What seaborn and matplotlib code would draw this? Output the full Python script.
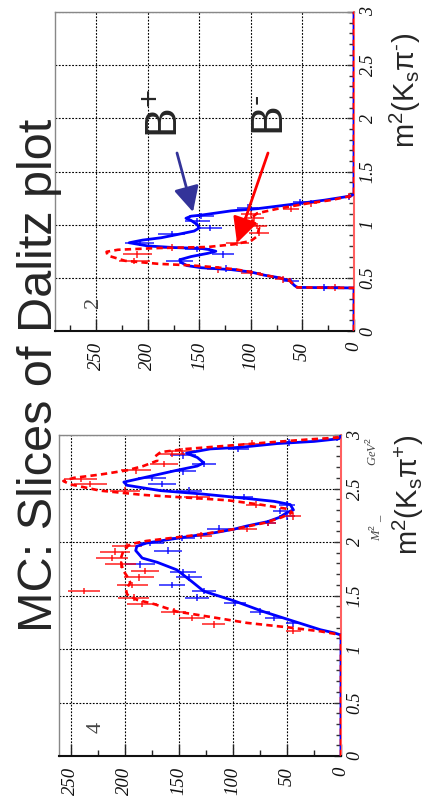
import matplotlib
matplotlib.use("Agg")
import matplotlib.pyplot as plt
from matplotlib.patches import FancyArrowPatch, ArrowStyle
from matplotlib.ticker import FixedLocator, MultipleLocator, FuncFormatter
import pandas as pd
import seaborn as sns

sns.set_style("white")
plt.rcParams["font.family"] = ["Liberation Sans", "DejaVu Sans"]
plt.rcParams["mathtext.fontset"] = "custom"
plt.rcParams["mathtext.rm"] = "Liberation Sans"
plt.rcParams["mathtext.it"] = "Liberation Sans:italic"
plt.rcParams["mathtext.bf"] = "Liberation Sans:bold"

# ---------------- slice 2 : m^2(Ks pi-) ----------------
TOP_FIT_BP_M2 = [0.0, 0.405, 0.41, 0.43, 0.47, 0.50, 0.525, 0.555, 0.577, 0.595, 0.615,
                 0.647, 0.67, 0.70, 0.73, 0.75, 0.765, 0.776, 0.785, 0.80, 0.83, 0.855,
                 0.877, 0.908, 0.94, 0.97, 1.0, 1.04, 1.06, 1.08, 1.09, 1.13, 1.15, 1.19,
                 1.23, 1.27, 1.29, 3.0]
TOP_FIT_BP_N = [0, 0, 55, 58, 62, 72, 87, 100, 119, 148, 162,
                168, 169, 158, 142, 134, 140, 148, 175, 200, 218, 205,
                187, 171, 155, 150, 152, 158, 163, 158, 148, 119, 94, 61,
                29, 3, 0, 0]
TOP_FIT_BM_M2 = [0.0, 0.405, 0.41, 0.43, 0.47, 0.50, 0.525, 0.555, 0.58, 0.60, 0.617,
                 0.632, 0.66, 0.71, 0.745, 0.764, 0.78, 0.79, 0.816, 0.847, 0.89, 0.97,
                 1.015, 1.06, 1.107, 1.15, 1.2, 1.23, 1.276, 3.0]
TOP_FIT_BM_N = [0, 0, 55, 58, 62, 72, 87, 100, 115, 135, 158,
                190, 222, 239, 240, 229, 190, 142, 116, 100, 94, 92,
                97, 100, 94, 74, 45, 23, 0, 0]
TOP_PTS_BP_M2 = [0.41, 0.47, 0.586, 0.66, 0.72, 0.77, 0.83, 0.91, 0.97, 1.03, 1.08,
                 1.16, 1.21, 1.26]
TOP_PTS_BP_N = [29, 61, 124, 169, 127, 152, 208, 177, 140, 152, 148, 103, 52, 5]
TOP_PTS_BP_ERR = [5, 8, 11, 13, 11, 12, 14, 13, 12, 12, 12, 10, 7, 2]
TOP_PTS_BM_M2 = [0.41, 0.485, 0.545, 0.58, 0.66, 0.72, 0.785, 0.83, 0.92, 0.985, 1.06,
                 1.10, 1.15, 1.2, 1.27]
TOP_PTS_BM_N = [18, 69, 100, 132, 213, 210, 177, 113, 92, 94, 97, 100, 61, 42, 5]
TOP_PTS_BM_ERR = [4, 8, 10, 11, 15, 14, 13, 11, 10, 10, 10, 10, 8, 6, 2]

# ---------------- slice 4 : m^2(Ks pi+) ----------------
BOT_FIT_BP_M2 = [0.0, 1.13, 1.15, 1.18, 1.26, 1.35, 1.45, 1.54, 1.63, 1.74, 1.81, 1.85,
                 1.92, 1.96, 1.99, 2.025, 2.06, 2.09, 2.12, 2.15, 2.19, 2.23, 2.275, 2.30,
                 2.35, 2.38, 2.41, 2.45, 2.48, 2.53, 2.56, 2.60, 2.67, 2.71, 2.74, 2.79,
                 2.83, 2.87, 2.885, 2.92, 2.94, 2.965, 3.0]
BOT_FIT_BP_N = [0, 0, 6, 19, 44, 72, 99, 127, 138, 152, 170, 184,
                190, 189, 180, 158, 135, 115, 99, 87, 68, 57, 50, 44,
                47, 62, 90, 130, 167, 198, 201, 183, 152, 133, 127, 133,
                143, 121, 93, 59, 25, 2, 0]
BOT_FIT_BM_M2 = [0.0, 1.13, 1.135, 1.165, 1.2, 1.244, 1.3, 1.35, 1.42, 1.46, 1.51, 1.556,
                 1.62, 1.68, 1.74, 1.84, 1.93, 1.98, 2.01, 2.04, 2.07, 2.12, 2.18, 2.23,
                 2.275, 2.31, 2.35, 2.39, 2.415, 2.44, 2.48, 2.54, 2.57, 2.60, 2.63, 2.67,
                 2.71, 2.76, 2.80, 2.84, 2.87, 2.90, 2.93, 2.96, 2.975, 3.0]
BOT_FIT_BM_N = [0, 0, 2, 19, 47, 87, 121, 152, 173, 189, 198, 199,
                195, 198, 202, 204, 201, 195, 180, 155, 130, 99, 70, 55,
                45, 50, 75, 105, 143, 183, 223, 251, 257, 247, 223, 198,
                183, 170, 172, 167, 143, 105, 68, 28, 3, 0]
BOT_PTS_BP_M2 = [1.24, 1.29, 1.35, 1.43, 1.48, 1.54, 1.60, 1.67, 1.72, 1.79, 1.92, 1.99,
                 2.04, 2.125, 2.18, 2.24, 2.29, 2.35, 2.42, 2.48, 2.54, 2.60, 2.66, 2.73,
                 2.81, 2.87, 2.93, 2.97]
BOT_PTS_BP_N = [44, 62, 75, 98, 133, 127, 156, 141, 146, 186, 160, 177,
                147, 113, 68, 50, 56, 50, 90, 141, 166, 175, 146, 127,
                146, 95, 48, 4]
BOT_PTS_BP_ERR = [7, 8, 9, 10, 11, 11, 12, 12, 12, 14, 13, 13,
                  12, 11, 8, 7, 7, 7, 9, 12, 13, 13, 12, 11,
                  12, 10, 7, 2]
BOT_PTS_BM_M2 = [1.17, 1.23, 1.29, 1.35, 1.42, 1.48, 1.54, 1.60, 1.67, 1.73, 1.79, 1.85,
                 1.91, 1.96, 2.06, 2.12, 2.18, 2.24, 2.35, 2.42, 2.48, 2.54, 2.59, 2.67,
                 2.73, 2.82, 2.85, 2.92, 2.98]
BOT_PTS_BM_N = [44, 118, 138, 155, 184, 192, 238, 193, 187, 181, 204, 212,
                209, 198, 130, 87, 68, 44, 79, 133, 200, 232, 241, 190,
                164, 156, 147, 82, 5]
BOT_PTS_BM_ERR = [7, 11, 12, 12, 14, 14, 15, 14, 14, 13, 14, 15,
                  14, 14, 11, 9, 8, 7, 9, 12, 14, 15, 15, 14,
                  13, 12, 12, 9, 2]

BIN_HALF = 0.03
COUNT_TICKS = [0, 50, 100, 150, 200, 250]
M2_TICKS = [0, 0.5, 1.0, 1.5, 2.0, 2.5, 3.0]

BLUE = "#0000ff"
RED = "#ff0000"

W, H = 430, 810
fig = plt.figure(figsize=(W / 100, H / 100), dpi=100)


def rect(left, top, right, bottom):
    return [left / W, 1 - bottom / H, (right - left) / W, (bottom - top) / H]


def panel(ax, nmax, fit_b, fit_r, pts_b, pts_r, tag):
    ax.set_axisbelow(True)
    ax.grid(True, which="major", color="black", linestyle=(0, (1.6, 1.4)), linewidth=0.8)

    for (m2, n, err), col in ((pts_b, BLUE), (pts_r, RED)):
        ax.errorbar(n, m2, xerr=err, yerr=BIN_HALF, fmt="none", ecolor=col,
                    elinewidth=1.3, alpha=0.75, capsize=0, zorder=2)

    db = pd.DataFrame({"m2": fit_b[0], "n": fit_b[1]})
    dr = pd.DataFrame({"m2": fit_r[0], "n": fit_r[1]})
    sns.lineplot(data=db, x="n", y="m2", sort=False, estimator=None, color=BLUE,
                 linewidth=2.0, ax=ax, zorder=3)
    sns.lineplot(data=dr, x="n", y="m2", sort=False, estimator=None, color=RED,
                 linewidth=1.9, linestyle=(0, (2.4, 1.6)), ax=ax, zorder=4)

    ax.set_xlim(nmax, 0)
    ax.set_ylim(0, 3)
    ax.set_xlabel("")
    ax.set_ylabel("")

    ax.xaxis.set_major_locator(FixedLocator(COUNT_TICKS))
    ax.xaxis.set_minor_locator(MultipleLocator(25))
    ax.yaxis.set_major_locator(FixedLocator(M2_TICKS))
    ax.yaxis.set_minor_locator(MultipleLocator(0.1))
    ax.yaxis.tick_right()
    ax.yaxis.set_major_formatter(FuncFormatter(lambda v, p: f"{v:g}"))
    ax.xaxis.set_major_formatter(FuncFormatter(lambda v, p: f"{v:g}"))

    ax.tick_params(axis="x", which="major", direction="in", length=8.5, width=1.0,
                   color="#222222", pad=8, labelsize=13.5, labelrotation=90, bottom=True)
    ax.tick_params(axis="x", which="minor", direction="in", length=4, width=1.0,
                   color="#222222", bottom=True)
    ax.tick_params(axis="y", which="major", direction="in", length=5, width=1.0,
                   color="#333333", pad=4, labelsize=13, labelrotation=90,
                   right=True, left=False)
    ax.tick_params(axis="y", which="minor", direction="in", length=3.5, width=1.0,
                   color="#333333", right=True, left=False)

    for lab in ax.get_xticklabels() + ax.get_yticklabels():
        lab.set_fontfamily("Liberation Serif")
        lab.set_fontstyle("italic")
        lab.set_color("#111111")
    for lab in ax.get_yticklabels():
        lab.set_verticalalignment("center")

    ax.spines["bottom"].set_color("#111111")
    ax.spines["bottom"].set_linewidth(1.5)
    ax.spines["right"].set_color("#ff6060")
    ax.spines["right"].set_linewidth(1.5)
    for s in ("left", "top"):
        ax.spines[s].set_color("#888888")
        ax.spines[s].set_linewidth(1.0)

    ax.text(0.13, 0.09, tag, transform=ax.transAxes, rotation=90, fontsize=16,
            family="Liberation Serif", color="#444444", ha="center", va="center")


ax_top = fig.add_axes(rect(55, 12, 354, 331))
panel(ax_top, 290,
      (TOP_FIT_BP_M2, TOP_FIT_BP_N), (TOP_FIT_BM_M2, TOP_FIT_BM_N),
      (TOP_PTS_BP_M2, TOP_PTS_BP_N, TOP_PTS_BP_ERR),
      (TOP_PTS_BM_M2, TOP_PTS_BM_N, TOP_PTS_BM_ERR), "2")

ax_bot = fig.add_axes(rect(59, 435, 341, 756))
panel(ax_bot, 261,
      (BOT_FIT_BP_M2, BOT_FIT_BP_N), (BOT_FIT_BM_M2, BOT_FIT_BM_N),
      (BOT_PTS_BP_M2, BOT_PTS_BP_N, BOT_PTS_BP_ERR),
      (BOT_PTS_BM_M2, BOT_PTS_BM_N, BOT_PTS_BM_ERR), "4")


def vtext(x, y, s, **kw):
    fig.text(x / W, 1 - y / H, s, rotation=90, rotation_mode="anchor", **kw)


vtext(52, 375, "MC: Slices of Dalitz plot", fontsize=35, ha="center", va="baseline")
vtext(177, 114, "B$^{+}$", fontsize=32, ha="center", va="baseline")
vtext(283, 115, "B$^{\\text{-}}$", fontsize=32, ha="center", va="baseline")
vtext(415, 90, "m$^2$(K$_{\\rm s}$π$^{\\text{-}}$)", fontsize=21, ha="center", va="baseline")
vtext(418, 495, "m$^2$(K$_{\\rm s}$π$^{+}$)", fontsize=21, ha="center", va="baseline")
vtext(380, 527, "M$^2$ _", fontsize=9, ha="center", va="baseline",
      family="Liberation Serif", style="italic", color="#444444")
vtext(377, 452, "GeV$^2$", fontsize=9, ha="center", va="baseline",
      family="Liberation Serif", style="italic", color="#444444")

for tail, head, col in (((177, 153), (193, 212), "#333399"),
                        ((268, 153), (237, 243), RED)):
    arr = FancyArrowPatch((tail[0] / W, 1 - tail[1] / H), (head[0] / W, 1 - head[1] / H),
                          transform=fig.transFigure,
                          arrowstyle=ArrowStyle("-|>", head_length=0.7, head_width=0.35),
                          mutation_scale=22, linewidth=2.0, color=col,
                          shrinkA=0, shrinkB=0)
    fig.add_artist(arr)

fig.savefig("out.png", dpi=100)
